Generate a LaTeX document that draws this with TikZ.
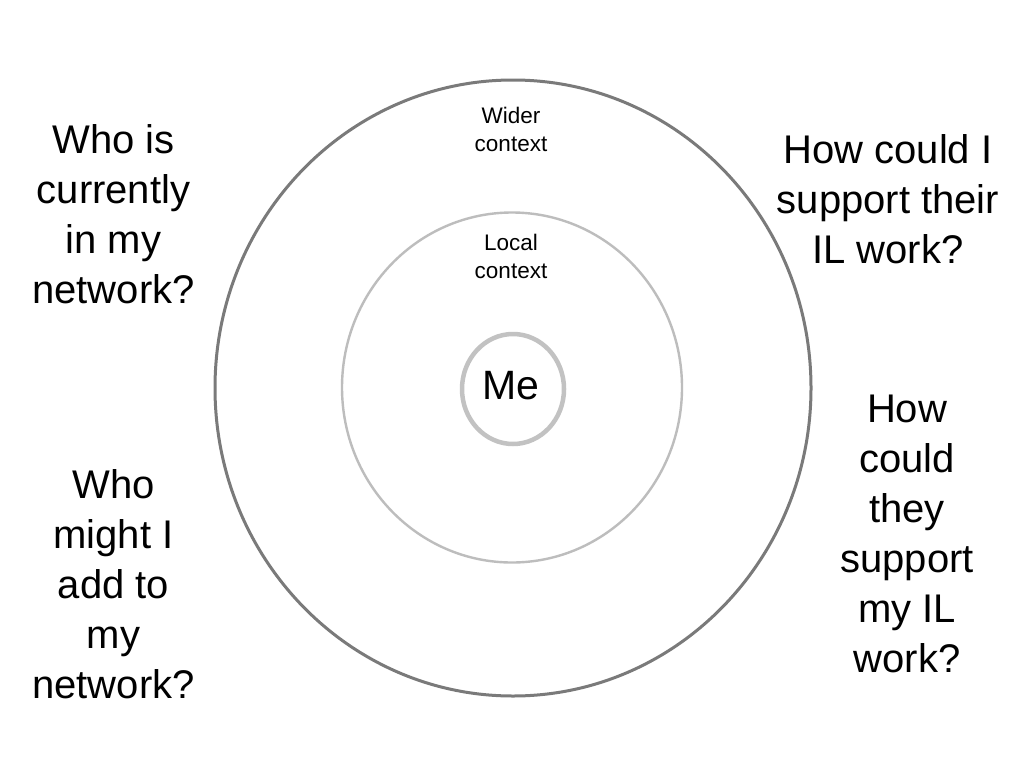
\documentclass[tikz,border=0pt]{standalone}
\usepackage{fontspec}
\setmainfont{Liberation Sans}
\begin{document}
\begin{tikzpicture}[x=1pt,y=-1pt,
  big/.style={font=\fontsize{40}{50}\selectfont, align=center, anchor=base, inner sep=0pt},
  small/.style={font=\fontsize{22.5}{28}\selectfont, align=center, anchor=base, inner sep=0pt},
  ring/.style={line cap=round}]
\useasboundingbox[fill=white] (0,0) rectangle (1024,768);
% rings
\draw[ring, draw=black!52, line width=3pt] (513,388) ellipse [x radius=298pt, y radius=308pt];
\draw[ring, draw=black!26, line width=2.4pt] (512,387.5) ellipse [x radius=170pt, y radius=175pt];
\draw[ring, draw=black!24, line width=4.5pt] (513,389) ellipse [x radius=51pt, y radius=55pt];
% ring labels (anchor = baseline of last line)
\node[small] (wider) at (511,151) {Wider\\context};
\node[small] (local) at (511,278) {Local\\context};
\node[font=\fontsize{41}{50}\selectfont, anchor=base, inner sep=0pt] (me) at (511,399) {Me};
% questions
\node[big] (q1) at (113.5,303) {Who is\\currently\\in my\\network?};
\node[big] (q2) at (113.5,698) {Who\\might I\\add to\\my\\network?};
\node[big] (q3) at (888,263) {How could I\\support their\\IL work?};
\node[big] (q4) at (907,672) {How\\could\\they\\support\\my IL\\work?};
\end{tikzpicture}
\end{document}
